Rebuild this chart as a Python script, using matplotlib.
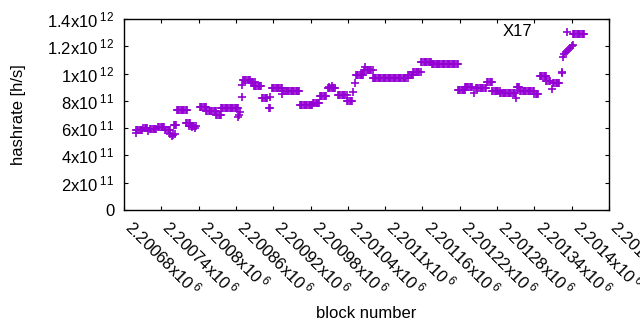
import numpy as np
import matplotlib
matplotlib.use("Agg")
import matplotlib.pyplot as plt

plt.rcParams['font.family'] = ['Liberation Sans', 'DejaVu Sans']
plt.rcParams['mathtext.fontset'] = 'custom'
plt.rcParams['mathtext.rm'] = 'Liberation Sans'
plt.rcParams['mathtext.it'] = 'Liberation Sans'

# constant runs of hashrate (units of 1e11 h/s)
run_start = [2200699, 2200711, 2200722, 2200735, 2200746, 2200760, 2200765, 2200780,
             2200785, 2200802, 2200812, 2200828, 2200836, 2200871, 2200884, 2200889,
             2200902, 2200913, 2200918, 2200936, 2200963, 2200984, 2200995, 2201008,
             2201024, 2201039, 2201053, 2201066, 2201080, 2201137, 2201145, 2201158,
             2201175, 2201217, 2201228, 2201246, 2201264, 2201272, 2201285, 2201312,
             2201317, 2201340, 2201349, 2201359, 2201370, 2201402]
run_end = [2200709, 2200717, 2200733, 2200746, 2200754, 2200765, 2200781, 2200786,
           2200796, 2200812, 2200828, 2200836, 2200865, 2200884, 2200891, 2200902,
           2200910, 2200916, 2200934, 2200963, 2200984, 2200995, 2201006, 2201021,
           2201039, 2201047, 2201066, 2201080, 2201137, 2201145, 2201158, 2201175,
           2201217, 2201230, 2201240, 2201262, 2201272, 2201285, 2201309, 2201317,
           2201340, 2201346, 2201360, 2201365, 2201381, 2201421]
run_value = [5.89, 6.0, 5.96, 6.08, 5.9, 6.2, 7.33, 6.38,
             6.15, 7.55, 7.25, 7.0, 7.5, 9.5, 9.35, 9.1,
             8.2, 7.5, 8.94, 8.7, 7.73, 7.84, 8.35, 8.94,
             8.43, 7.98, 9.9, 10.26, 9.68, 9.9, 10.1, 10.85,
             10.7, 8.8, 9.0, 8.94, 9.38, 8.72, 8.58, 9.0,
             8.75, 8.5, 9.82, 9.42, 9.3, 12.9]

# isolated points (block, hashrate in 1e11)
single_x = [2200699, 2200719, 2200754, 2200757, 2200759, 2200762, 2200790, 2200794,
            2200865, 2200866, 2200864, 2200870, 2200870, 2200915, 2200934, 2201010,
            2201014, 2201048, 2201051, 2201068, 2201243, 2201310, 2201368, 2201384,
            2201385, 2201386, 2201388, 2201391, 2201394, 2201397, 2201400, 2201402,
            2201392]
single_y = [5.67, 5.8, 5.6, 5.45, 5.5, 5.6, 6.05, 6.0,
            6.96, 7.15, 6.85, 8.28, 9.16, 8.3, 8.5, 9.05,
            9.1, 8.65, 9.3, 10.5, 8.58, 8.2, 8.87, 10.04,
            10.1, 11.2, 11.4, 11.6, 11.75, 11.9, 12.0, 12.1,
            13.05]

x_ticks = list(range(2200680, 2201461, 60))
y_ticks = [0, 2, 4, 6, 8, 10, 12, 14]

xs, ys = [], []
for a, b, v in zip(run_start, run_end, run_value):
    for xv in range(a, b + 1, 2):
        xs.append(xv)
        ys.append(v * 1e11)
xs += single_x
ys += [v * 1e11 for v in single_y]

fig = plt.figure(figsize=(6.4, 3.3), dpi=100)
ax = fig.add_axes([124/640, 1 - 210/330, (609-124)/640, (210-19)/330])
ax.plot(xs, ys, linestyle='none', marker='+', markersize=5.4, mew=1.2, color='#9400D3')

ax.set_xlim(2200680, 2201460)
ax.set_ylim(0, 1.4e12)
ax.set_xticks(x_ticks)
ax.set_xticklabels([f"{v/1e6:g}x10$^{{\\;6}}$" for v in x_ticks], rotation=-45,
                   ha='left', va='baseline', rotation_mode='anchor', fontsize=12)
ylabels = []
for t in y_ticks:
    if t == 0:
        ylabels.append("0")
    elif t < 10:
        ylabels.append(f"{t}x10$^{{\\;11}}$")
    else:
        ylabels.append(f"{t/10:g}x10$^{{\\;12}}$")
ax.set_yticks([t * 1e11 for t in y_ticks])
ax.set_yticklabels(ylabels, fontsize=12)
ax.tick_params(axis='both', direction='in', length=3, width=0.8, top=True, right=True)
ax.tick_params(axis='y', pad=7)
ax.tick_params(axis='x', pad=13)
for s in ax.spines.values():
    s.set_linewidth(1.0)

ax.set_xlabel("block number", fontsize=12)
ax.xaxis.set_label_coords(0.5, -0.505)
ax.set_ylabel("hashrate [h/s]", fontsize=12)
ax.yaxis.set_label_coords(-0.203, 0.5)
ax.text(0.812, 0.932, "X17", transform=ax.transAxes, ha='center', va='center', fontsize=12)

fig.savefig("out.png", dpi=100)
